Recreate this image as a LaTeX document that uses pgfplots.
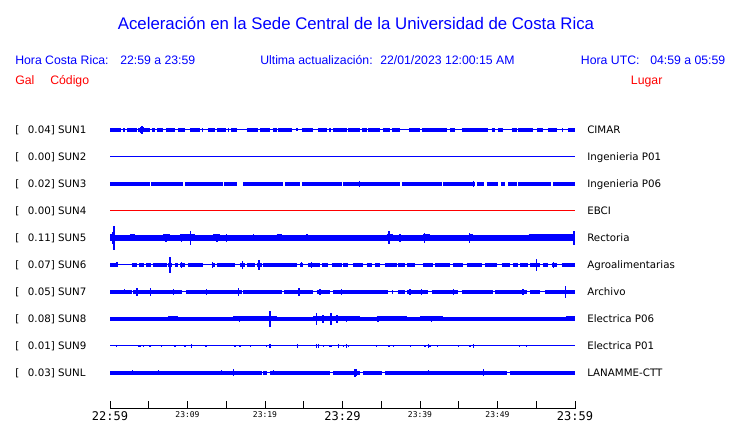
\documentclass[border=0pt]{standalone}
\usepackage{pgfplots}
\pgfplotsset{compat=1.18}
\usepackage{fontspec}
\setmainfont{Liberation Sans}
\newfontfamily\dv{DejaVu Sans}
\newfontfamily\dvm{DejaVu Sans Mono}
\definecolor{sb}{RGB}{0,0,255}
\definecolor{sr}{RGB}{255,0,0}
\newcommand{\bt}{\dvm\fontsize{9}{9}\selectfont}
\newcommand{\st}{\dvm\fontsize{6}{6}\selectfont}
\newcommand{\labf}{\dv\fontsize{7.7}{8}\selectfont}
\newcommand{\hdf}{\fontsize{9.2}{10}\selectfont}
\tikzset{
  lab/.style={anchor=base west, inner sep=0pt, font=\labf, text=black},
  hd/.style={anchor=base west, inner sep=0pt, font=\hdf, text=sb},
  hr/.style={anchor=base west, inner sep=0pt, font=\hdf, text=sr},
}
\pgfplotsset{
  spk/.style={draw=none, mark=none, error bars/.cd, y dir=both, y explicit, error mark=none,
    error bar style={draw=sb, line width=1.1pt}},
}
\begin{document}
\begin{tikzpicture}
\begin{axis}[
  scale only axis, width=348.75pt, height=306.75pt,
  xmin=0, xmax=60, ymin=14, ymax=423,
  axis x line=bottom, axis y line=none,
  x axis line style={-, line width=0.75pt, black},
  xtick={0,5,...,60},
  xticklabels={{\bt 22:59},{},{\st 23:09},{},{\st 23:19},{},{\bt 23:29},{},{\st 23:39},{},{\st 23:49},{},{\bt 23:59}},
  tick align=inside, major tick length=6pt,
  xtick style={black, line width=0.75pt},
  xticklabel style={inner sep=0pt, anchor=north, yshift=-2pt},
  clip=false,
  unbounded coords=jump,
  every axis plot/.append style={line cap=butt},
]
% bounding box of the whole figure
\path (axis cs:{-110/7.75},0) rectangle (axis cs:{630/7.75},423);

% ---------- baselines ----------
\addplot[sb, line width=0.75pt] coordinates {(0,293) (60,293)};
\addplot[sb, line width=0.75pt] coordinates {(0,266) (60,266)};
\addplot[sr, line width=0.75pt] coordinates {(0,212) (60,212)};
\addplot[sb, line width=0.75pt] coordinates {(0,158) (60,158)};
\addplot[sb, line width=0.75pt] coordinates {(0,131) (60,131)};
\addplot[sb, line width=0.75pt] coordinates {(0,77) (60,77)};

% ---------- SUN1 ----------
\addplot[sb, line width=2.4pt] table[row sep=\\] {x y\\
0 293\\ 1.38 293\\ 1.38 nan\\ 2.24 293\\ 3.44 293\\ 3.44 nan\\ 3.66 293\\ 5.16 293\\ 5.16 nan\\
5.38 293\\ 5.81 293\\ 5.81 nan\\ 6.11 293\\ 6.88 293\\ 6.88 nan\\ 7.23 293\\ 8.39 293\\ 8.39 nan\\
8.82 293\\ 9.68 293\\ 9.68 nan\\ 10.32 293\\ 11.61 293\\ 11.61 nan\\ 11.83 293\\ 12.04 293\\ 12.04 nan\\
12.69 293\\ 13.55 293\\ 13.55 nan\\ 13.85 293\\ 14.97 293\\ 14.97 nan\\ 15.57 293\\ 16.34 293\\ 16.34 nan\\
17.63 293\\ 19.14 293\\ 19.14 nan\\ 19.35 293\\ 20.65 293\\ 20.65 nan\\ 20.99 293\\ 21.51 293\\ 21.51 nan\\
21.72 293\\ 23.44 293\\ 23.44 nan\\ 24.73 293\\ 26.24 293\\ 26.24 nan\\ 26.88 293\\ 27.96 293\\ 27.96 nan\\
28.82 293\\ 30.54 293\\ 30.54 nan\\ 30.75 293\\ 32.26 293\\ 32.26 nan\\ 32.47 293\\ 33.12 293\\ 33.12 nan\\
33.33 293\\ 34.84 293\\ 34.84 nan\\ 35.18 293\\ 36.13 293\\ 36.13 nan\\ 36.34 293\\ 37.42 293\\ 37.42 nan\\
38.62 293\\ 40.0 293\\ 40.0 nan\\ 40.22 293\\ 43.44 293\\ 43.44 nan\\ 43.87 293\\ 44.52 293\\ 44.52 nan\\
45.38 293\\ 48.82 293\\ 48.82 nan\\ 49.25 293\\ 49.68 293\\ 49.68 nan\\ 50.11 293\\ 50.75 293\\ 50.75 nan\\
51.83 293\\ 52.47 293\\ 52.47 nan\\ 52.69 293\\ 54.62 293\\ 54.62 nan\\ 55.14 293\\ 55.91 293\\ 55.91 nan\\
56.56 293\\ 57.63 293\\ 57.63 nan\\ 59.14 293\\ 60 293\\
};
\addplot[spk] table[row sep=\\, y error=e] {x y e\\
1.8 293 2\\ 3.0 293 2\\ 4.0 293 3\\ 4.1 293 4\\ 4.3 293 2.5\\ 15.3 293 2\\ 21.2 293 2.2\\ 24.1 293 1.5\\ 28.4 293 2\\ 58.4 293 2.2\\
};

% ---------- SUN3 ----------
\addplot[sb, line width=2.4pt] table[row sep=\\] {x y\\
0 239\\ 5.16 239\\ 5.16 nan\\ 5.29 239\\ 9.46 239\\ 9.46 nan\\ 9.68 239\\ 14.62 239\\ 14.62 nan\\
14.85 239\\ 16.34 239\\ 16.34 nan\\ 17.2 239\\ 22.37 239\\ 22.37 nan\\ 22.6 239\\ 24.52 239\\ 24.52 nan\\
24.75 239\\ 29.89 239\\ 29.89 nan\\ 30.12 239\\ 37.42 239\\ 37.42 nan\\ 37.65 239\\ 42.8 239\\ 42.8 nan\\
43.03 239\\ 47.1 239\\ 47.1 nan\\ 47.3 239\\ 48.3 239\\ 48.3 nan\\ 48.6 239\\ 50.1 239\\ 50.1 nan\\
50.4 239\\ 51.0 239\\ 51.0 nan\\ 51.4 239\\ 52.5 239\\ 52.5 nan\\ 52.7 239\\ 56.9 239\\ 56.9 nan\\
57.2 239\\ 60 239\\
};
\addplot[spk] table[row sep=\\, y error=e] {x y e\\
10.4 239 2\\ 14.8 239 2\\ 32.2 239 3\\ 46.9 239 3\\ 53.0 239 2\\
};

% ---------- SUN5 ----------
\addplot[sb, line width=3.9pt] coordinates {(0,185) (60,185)};
\addplot[sb, line width=5.25pt] table[row sep=\\] {x y\\
0 185\\ 0.65 185\\ 0.65 nan\\ 2.58 185\\ 3.23 185\\ 3.23 nan\\ 6.88 185\\ 7.74 185\\ 7.74 nan\\
9.03 185\\ 10.97 185\\ 10.97 nan\\ 13.33 185\\ 14.19 185\\ 14.19 nan\\ 21.51 185\\ 22.15 185\\ 22.15 nan\\
35.7 185\\ 36.56 185\\ 36.56 nan\\ 40.43 185\\ 41.29 185\\ 41.29 nan\\ 46.45 185\\ 46.9 185\\ 46.9 nan\\
54.0 185\\ 60 185\\
};
\addplot[spk] table[row sep=\\, y error=e] {x y e\\
0.3 185 6\\ 0.5 185 12\\ 7.2 185 4\\ 9.2 185 4\\ 10.4 185 6.7\\ 13.8 185 4\\ 15.0 185 4\\ 18.5 185 3.5\\
25.4 185 3.5\\ 36.0 185 6.5\\ 37.4 185 4\\ 40.6 185 5\\ 46.4 185 5\\ 59.9 185 7\\
};

% ---------- SUN6 ----------
\addplot[sb, line width=2.55pt] table[row sep=\\] {x y\\
0 158\\ 1.08 158\\ 1.08 nan\\ 2.8 158\\ 3.5 158\\ 3.5 nan\\ 3.8 158\\ 4.4 158\\ 4.4 nan\\
4.6 158\\ 5.3 158\\ 5.3 nan\\ 5.5 158\\ 7.31 158\\ 7.31 nan\\ 7.53 158\\ 7.96 158\\ 7.96 nan\\
8.39 158\\ 8.82 158\\ 8.82 nan\\ 9.03 158\\ 9.68 158\\ 9.68 nan\\ 10.1 158\\ 12.04 158\\ 12.04 nan\\
13.12 158\\ 13.55 158\\ 13.55 nan\\ 13.76 158\\ 16.13 158\\ 16.13 nan\\ 16.77 158\\ 17.42 158\\ 17.42 nan\\
17.63 158\\ 18.71 158\\ 18.71 nan\\ 18.92 158\\ 19.57 158\\ 19.57 nan\\ 19.78 158\\ 24.09 158\\ 24.09 nan\\
24.52 158\\ 24.95 158\\ 24.95 nan\\ 25.59 158\\ 27.1 158\\ 27.1 nan\\ 27.31 158\\ 28.17 158\\ 28.17 nan\\
28.6 158\\ 29.89 158\\ 29.89 nan\\ 30.11 158\\ 30.75 158\\ 30.75 nan\\ 31.4 158\\ 32.69 158\\ 32.69 nan\\
33.12 158\\ 33.76 158\\ 33.76 nan\\ 34.19 158\\ 34.84 158\\ 34.84 nan\\ 35.48 158\\ 36.99 158\\ 36.99 nan\\
37.2 158\\ 38.06 158\\ 38.06 nan\\ 38.28 158\\ 39.35 158\\ 39.35 nan\\ 40.43 158\\ 41.72 158\\ 41.72 nan\\
41.94 158\\ 43.87 158\\ 43.87 nan\\ 44.3 158\\ 45.59 158\\ 45.59 nan\\ 46.02 158\\ 47.96 158\\ 47.96 nan\\
48.39 158\\ 49.89 158\\ 49.89 nan\\ 50.54 158\\ 51.61 158\\ 51.61 nan\\ 52.04 158\\ 52.69 158\\ 52.69 nan\\
52.9 158\\ 53.98 158\\ 53.98 nan\\ 54.19 158\\ 55.48 158\\ 55.48 nan\\ 55.91 158\\ 56.56 158\\ 56.56 nan\\
56.99 158\\ 57.63 158\\ 57.63 nan\\ 58.28 158\\ 60 158\\
};
\addplot[spk] table[row sep=\\, y error=e] {x y e\\
0.9 158 2.5\\ 7.74 158 8\\ 9.2 158 3\\ 13.2 158 3\\ 17.1 158 4\\ 19.2 158 5\\ 24.7 158 2.5\\
26.0 158 3\\ 55.0 158 6\\ 57.2 158 3\\
};

% ---------- SUN7 ----------
\addplot[sb, line width=3pt] table[row sep=\\] {x y\\
0 131\\ 2.8 131\\ 2.8 nan\\ 3.01 131\\ 9.25 131\\ 9.25 nan\\ 9.81 131\\ 16.99 131\\ 16.99 nan\\
17.2 131\\ 22.15 131\\ 22.15 nan\\ 22.49 131\\ 26.24 131\\ 26.24 nan\\ 26.67 131\\ 28.39 131\\ 28.39 nan\\
28.82 131\\ 35.91 131\\ 35.91 nan\\ 36.34 131\\ 36.56 131\\ 36.56 nan\\ 37.2 131\\ 38.06 131\\ 38.06 nan\\
38.28 131\\ 41.08 131\\ 41.08 nan\\ 41.51 131\\ 44.95 131\\ 44.95 nan\\ 45.38 131\\ 49.46 131\\ 49.46 nan\\
49.68 131\\ 53.76 131\\ 53.76 nan\\ 54.19 131\\ 55.48 131\\ 55.48 nan\\ 56.13 131\\ 60 131\\
};
\addplot[spk] table[row sep=\\, y error=e] {x y e\\
1.9 131 2.5\\ 3.48 131 4\\ 5.25 131 4\\ 8.2 131 3\\ 12.47 131 3\\ 16.6 131 4\\ 24.39 131 4\\
27.1 131 3\\ 29.9 131 3\\ 38.7 131 3\\ 40.2 131 3\\ 44.3 131 3\\ 53.3 131 3\\ 58.8 131 6\\
};

% ---------- SUN8 ----------
\addplot[sb, line width=2.7pt] coordinates {(0,104) (60,104)};
\addplot[sb, line width=3.75pt] table[row sep=\\] {x y\\
7.53 104\\ 8.82 104\\ 8.82 nan\\ 15.9 104\\ 21.5 104\\ 21.5 nan\\ 26.24 104\\ 32.26 104\\ 32.26 nan\\
34.4 104\\ 38.28 104\\ 38.28 nan\\ 40.0 104\\ 43.01 104\\ 43.01 nan\\ 58.9 104\\ 60 104\\
};
\addplot[spk] table[row sep=\\, y error=e] {x y e\\
16.7 104 3\\ 20.65 104 8\\ 26.67 104 6\\ 27.5 104 4\\ 28.52 104 6\\ 29.3 104 4\\ 30.54 104 3\\
34.6 104 3\\ 41.5 104 3\\
};

% ---------- SUN9 ----------
\addplot[spk] table[row sep=\\, y error=e] {x y e\\
0.86 77 1.3\\ 3.66 77 1.3\\ 3.87 77 1.3\\ 4.3 77 1.3\\ 5.16 77 1.3\\ 6.67 77 1.3\\ 8.39 77 1.3\\
9.68 77 1.3\\ 10.54 77 1.8\\ 12.39 77 1.3\\ 16.13 77 1.3\\ 16.77 77 1.3\\ 18.15 77 1.3\\ 20.22 77 1.3\\
20.65 77 1.8\\ 24.17 77 1.8\\ 26.67 77 1.8\\ 26.88 77 1.8\\ 27.53 77 1.3\\ 28.39 77 1.3\\ 28.6 77 1.3\\
29.46 77 1.8\\ 30.11 77 1.3\\ 30.54 77 1.8\\ 30.75 77 1.3\\ 34.41 77 1.3\\ 36.0 77 1.3\\ 36.56 77 1.3\\
38.8 77 1.3\\ 40.65 77 1.3\\ 41.08 77 1.8\\ 41.29 77 1.3\\ 42.28 77 1.3\\ 44.95 77 1.3\\ 46.45 77 1.3\\
46.88 77 1.8\\ 52.82 77 1.3\\ 53.76 77 1.3\\
};

% ---------- SUNL ----------
\addplot[sb, line width=2.4pt] table[row sep=\\] {x y\\
0 50\\ 19.6 50\\ 19.6 nan\\ 19.8 50\\ 20.2 50\\ 20.2 nan\\ 20.7 50\\ 28.4 50\\ 28.4 nan\\
28.8 50\\ 32.3 50\\ 32.3 nan\\ 32.7 50\\ 35.1 50\\ 35.1 nan\\ 35.5 50\\ 51.2 50\\ 51.2 nan\\
51.6 50\\ 60 50\\
};
\addplot[sb, line width=0.75pt] coordinates {(0,50) (60,50)};
\addplot[spk] table[row sep=\\, y error=e] {x y e\\
2.88 50 2.5\\ 6.24 50 2.5\\ 8.73 50 2\\ 9.68 50 2\\ 14.41 50 2.5\\ 15.91 50 3.5\\ 21.08 50 2.5\\
31.61 50 4\\ 31.83 50 3.5\\ 41.08 50 2.5\\ 48.17 50 3.5\\ 56.13 50 2\\
};

% ---------- title and header ----------
\node[anchor=base, inner sep=0pt, font=\fontsize{12.6}{14}\selectfont, text=sb]
  at (axis cs:{(356-110)/7.75},393.7) {Aceleración en la Sede Central de la Universidad de Costa Rica};
\node[hd] at (axis cs:{(15-110)/7.75},358) {Hora Costa Rica:};
\node[hd] at (axis cs:{(120-110)/7.75},358) {22:59 a 23:59};
\node[hd] at (axis cs:{(260-110)/7.75},358) {Ultima actualización:};
\node[hd] at (axis cs:{(380-110)/7.75},358) {22/01/2023 12:00:15 AM};
\node[hd] at (axis cs:{(580.7-110)/7.75},358) {Hora UTC:};
\node[hd] at (axis cs:{(650-110)/7.75},358) {04:59 a 05:59};
\node[hr] at (axis cs:{(15-110)/7.75},338) {Gal};
\node[hr] at (axis cs:{(50-110)/7.75},338) {Código};
\node[hr] at (axis cs:{(630.7-110)/7.75},338) {Lugar};

% ---------- left labels ----------
\node[lab] at (axis cs:{(15-110)/7.75},289) {[};
\node[lab] at (axis cs:{(15-110)/7.75},262) {[};
\node[lab] at (axis cs:{(15-110)/7.75},235) {[};
\node[lab] at (axis cs:{(15-110)/7.75},208) {[};
\node[lab] at (axis cs:{(15-110)/7.75},181) {[};
\node[lab] at (axis cs:{(15-110)/7.75},154) {[};
\node[lab] at (axis cs:{(15-110)/7.75},127) {[};
\node[lab] at (axis cs:{(15-110)/7.75},100) {[};
\node[lab] at (axis cs:{(15-110)/7.75},73) {[};
\node[lab] at (axis cs:{(15-110)/7.75},46) {[};
\node[lab] at (axis cs:{(27.7-110)/7.75},289) {0.04] SUN1};
\node[lab] at (axis cs:{(27.7-110)/7.75},262) {0.00] SUN2};
\node[lab] at (axis cs:{(27.7-110)/7.75},235) {0.02] SUN3};
\node[lab] at (axis cs:{(27.7-110)/7.75},208) {0.00] SUN4};
\node[lab] at (axis cs:{(27.7-110)/7.75},181) {0.11] SUN5};
\node[lab] at (axis cs:{(27.7-110)/7.75},154) {0.07] SUN6};
\node[lab] at (axis cs:{(27.7-110)/7.75},127) {0.05] SUN7};
\node[lab] at (axis cs:{(27.7-110)/7.75},100) {0.08] SUN8};
\node[lab] at (axis cs:{(27.7-110)/7.75},73) {0.01] SUN9};
\node[lab] at (axis cs:{(27.7-110)/7.75},46) {0.03] SUNL};

% ---------- right labels ----------
\node[lab] at (axis cs:{(587-110)/7.75},289) {CIMAR};
\node[lab] at (axis cs:{(587-110)/7.75},262) {Ingenieria P01};
\node[lab] at (axis cs:{(587-110)/7.75},235) {Ingenieria P06};
\node[lab] at (axis cs:{(587-110)/7.75},208) {EBCI};
\node[lab] at (axis cs:{(587-110)/7.75},181) {Rectoria};
\node[lab] at (axis cs:{(587-110)/7.75},154) {Agroalimentarias};
\node[lab] at (axis cs:{(587-110)/7.75},127) {Archivo};
\node[lab] at (axis cs:{(587-110)/7.75},100) {Electrica P06};
\node[lab] at (axis cs:{(587-110)/7.75},73) {Electrica P01};
\node[lab] at (axis cs:{(587-110)/7.75},46) {LANAMME-CTT};
\end{axis}
\end{tikzpicture}
\end{document}
